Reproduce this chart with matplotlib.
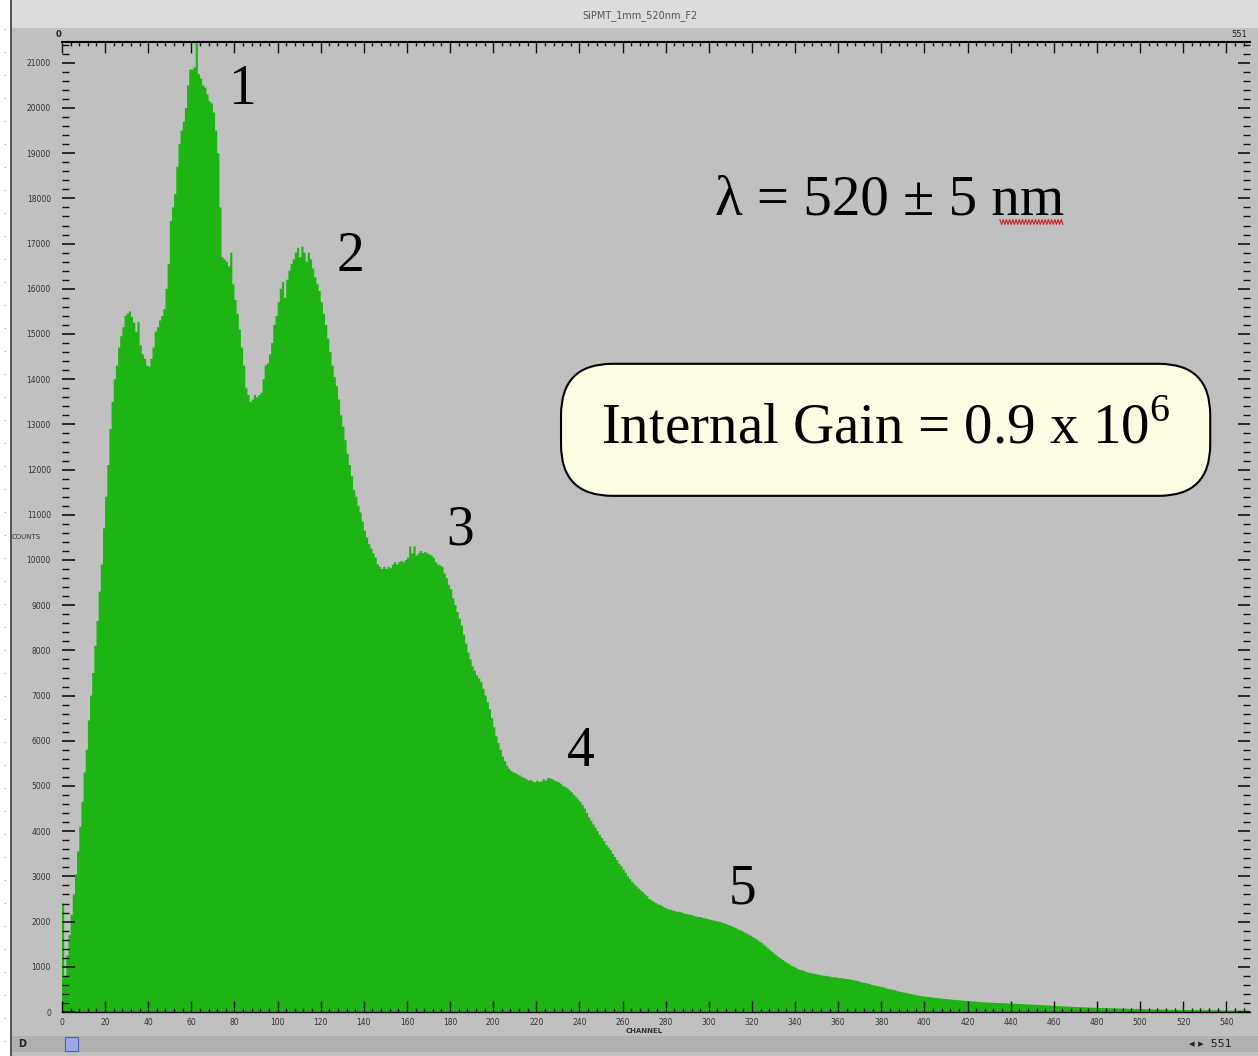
import numpy as np
import matplotlib
matplotlib.use('Agg')
import matplotlib.pyplot as plt
from matplotlib.patches import Rectangle

plt.rcParams['mathtext.fontset'] = 'custom'
plt.rcParams['mathtext.rm'] = 'Liberation Serif'

# counts per ADC channel (0..550)
counts = [
    2400, 780, 1250, 1700, 2150, 2600, 3050, 3550, 4100, 4650,
    5300, 5800, 6450, 7000, 7500, 8100, 8650, 9300, 9900, 10700,
    11400, 12100, 12900, 13500, 14000, 14300, 14700, 14950, 15150, 15400,
    15450, 15500, 15380, 15250, 15050, 15270, 14750, 14550, 14450, 14300,
    14280, 14450, 14700, 15050, 15150, 15300, 15400, 15550, 16000, 16550,
    17500, 17800, 18100, 18700, 19200, 19500, 19700, 20000, 20500, 20850,
    20850, 20900, 21450, 20750, 20650, 20500, 20450, 20300, 20150, 20100,
    19900, 19500, 19000, 17800, 16700, 16650, 16600, 16500, 16800, 16100,
    15750, 15450, 15100, 14700, 14300, 13800, 13650, 13500, 13550, 13650,
    13600, 13650, 13700, 14000, 14300, 14350, 14550, 14800, 15200, 15400,
    15700, 16000, 16150, 15800, 16200, 16400, 16550, 16650, 16800, 16900,
    16700, 16930, 16800, 16600, 16800, 16650, 16450, 16250, 16100, 15950,
    15700, 15450, 15200, 14900, 14600, 14300, 14050, 13850, 13550, 13200,
    12950, 12650, 12350, 12100, 11850, 11550, 11400, 11200, 11050, 10850,
    10650, 10500, 10350, 10250, 10150, 10050, 9900, 9850, 9800, 9850,
    9800, 9850, 9820, 9900, 9950, 9900, 9950, 9980, 9950, 10000,
    10050, 10300, 10150, 10300, 10100, 10150, 10200, 10150, 10180, 10150,
    10120, 10100, 10050, 9950, 9900, 9880, 9850, 9700, 9600, 9450,
    9350, 9150, 9000, 8850, 8700, 8550, 8350, 8150, 7950, 7800,
    7650, 7550, 7450, 7380, 7300, 7150, 7000, 6850, 6700, 6500,
    6300, 6100, 5950, 5800, 5650, 5550, 5450, 5380, 5330, 5300,
    5280, 5250, 5230, 5200, 5180, 5150, 5120, 5130, 5100, 5080,
    5120, 5090, 5100, 5150, 5120, 5180, 5170, 5150, 5120, 5100,
    5080, 5050, 5000, 4980, 4950, 4900, 4860, 4800, 4750, 4700,
    4650, 4580, 4500, 4400, 4300, 4230, 4150, 4080, 4000, 3920,
    3850, 3780, 3700, 3640, 3580, 3500, 3430, 3360, 3280, 3220,
    3150, 3080, 3000, 2940, 2880, 2830, 2780, 2730, 2690, 2650,
    2600, 2560, 2500, 2470, 2440, 2410, 2380, 2370, 2340, 2310,
    2290, 2270, 2260, 2240, 2230, 2210, 2220, 2200, 2180, 2170,
    2160, 2150, 2140, 2120, 2110, 2100, 2100, 2080, 2070, 2060,
    2040, 2030, 2020, 2010, 2000, 1990, 1970, 1960, 1940, 1920,
    1900, 1880, 1860, 1830, 1810, 1790, 1760, 1740, 1710, 1690,
    1660, 1630, 1600, 1560, 1530, 1490, 1450, 1410, 1370, 1330,
    1290, 1250, 1210, 1180, 1150, 1110, 1080, 1050, 1020, 1000,
    980, 950, 930, 920, 900, 880, 870, 860, 850, 840,
    830, 820, 810, 800, 800, 790, 780, 770, 770, 760,
    750, 750, 740, 730, 730, 720, 710, 700, 690, 680,
    660, 650, 640, 630, 620, 600, 590, 580, 570, 560,
    550, 540, 520, 510, 500, 490, 480, 460, 450, 440,
    430, 420, 410, 400, 390, 380, 370, 360, 350, 345,
    340, 335, 330, 320, 315, 310, 305, 300, 295, 290,
    285, 280, 275, 270, 265, 262, 258, 255, 250, 245,
    240, 236, 232, 228, 225, 222, 218, 215, 212, 210,
    207, 205, 203, 200, 198, 196, 194, 192, 190, 188,
    186, 184, 182, 180, 177, 174, 172, 170, 167, 164,
    162, 160, 157, 155, 152, 150, 147, 144, 141, 138,
    135, 133, 130, 128, 125, 122, 120, 118, 115, 112,
    110, 108, 106, 104, 102, 100, 98, 96, 94, 92,
    90, 88, 87, 86, 85, 84, 82, 80, 79, 78,
    76, 75, 74, 73, 72, 70, 69, 68, 67, 66,
    65, 64, 63, 62, 61, 60, 58, 57, 56, 55,
    54, 53, 52, 51, 50, 49, 48, 48, 47, 46,
    45, 45, 44, 43, 43, 42, 41, 41, 40, 40,
    39, 38, 38, 37, 37, 36, 36, 35, 35, 34,
    34, 33, 33, 32, 32, 31, 31, 30, 30, 30, 30,
]

# peak numbers and where they sit (channel, counts)
peak_labels = ['1', '2', '3', '4', '5']
peak_x = [83.5, 133.6, 184.7, 240.4, 315.5]
peak_y = [20400, 16700, 10660, 5750, 2700]

x_ticks = list(range(0, 541, 20))
y_ticks = list(range(0, 21001, 1000))

GREEN = '#1eb414'
BG = '#c0c0c0'

fig = plt.figure(figsize=(12.58, 10.56), dpi=100)
fig.patch.set_facecolor(BG)

# window chrome: title strip, left margin, scroll bar
fig.patches.append(Rectangle((0, 1 - 28 / 1056), 1, 28 / 1056, transform=fig.transFigure,
                             facecolor='#dcdcdc', edgecolor='none', zorder=0))
fig.patches.append(Rectangle((0, 0), 10 / 1258, 1, transform=fig.transFigure,
                             facecolor='white', edgecolor='none', zorder=0))
fig.patches.append(Rectangle((10 / 1258, 0), 2 / 1258, 1, transform=fig.transFigure,
                             facecolor='#555555', edgecolor='none', zorder=1))
fig.patches.append(Rectangle((12 / 1258, 4 / 1056), 1, 16 / 1056, transform=fig.transFigure,
                             facecolor='#b0b0b0', edgecolor='none', zorder=0))
fig.patches.append(Rectangle((65 / 1258, 5 / 1056), 13 / 1258, 14 / 1056, transform=fig.transFigure,
                             facecolor='#9aa8e8', edgecolor='#5060b0', lw=0.8, zorder=1))
for yy in np.arange(30, 1056, 23):
    fig.text(4 / 1258, 1 - yy / 1056, '.', fontsize=6, color='#333333', ha='center')
fig.text(640 / 1258, 1 - 16 / 1056, 'SiPMT_1mm_520nm_F2', fontsize=7, color='#555555',
         ha='center', va='center')
fig.text(18 / 1258, 12 / 1056, 'D', fontsize=7, color='#222222', weight='bold', va='center')
fig.text(1210 / 1258, 12 / 1056, '\u25c2 \u25b8  551', fontsize=8, color='#222222', va='center',
         ha='center')

ax = fig.add_axes([62 / 1258, 1 - 1012 / 1056, (1250 - 62) / 1258, (1012 - 42) / 1056])
ax.set_facecolor(BG)

edges = np.arange(len(counts) + 1)
ax.stairs(counts, edges, fill=True, color=GREEN, lw=0)

ax.set_xlim(0, 551)
ax.set_ylim(0, 21460)

for s in ['left', 'right']:
    ax.spines[s].set_visible(False)
ax.spines['top'].set_linewidth(1.5)
ax.spines['bottom'].set_linewidth(1.0)
ax.spines['bottom'].set_linestyle((0, (2, 1)))

ax.set_xticks(x_ticks)
ax.set_xticklabels([str(v) for v in x_ticks], fontsize=5.5, color='#333333')
ax.set_xticks(np.arange(0, 552, 4), minor=True)
ax.set_yticks(y_ticks)
ax.set_yticklabels(['0'] + [str(v) for v in y_ticks[1:]], fontsize=5.5, color='#333333')
ax.set_yticks(np.arange(0, 21460, 200), minor=True)
ax.tick_params(axis='x', which='major', direction='in', length=8, width=1, pad=4,
               top=True, bottom=True, colors='#111111', labelcolor='#333333')
ax.tick_params(axis='x', which='minor', direction='in', length=3, width=1,
               top=True, bottom=True, colors='#111111')
ax.tick_params(axis='y', which='major', direction='in', length=9, width=1.2, pad=8,
               left=True, right=True, colors='#111111', labelcolor='#333333')
ax.tick_params(axis='y', which='minor', direction='in', length=5, width=1,
               left=True, right=True, colors='#111111')

ax.text(-1.5, 21520, '0', fontsize=6, color='#222222', weight='bold', ha='center',
        va='bottom', zorder=5)
ax.text(546, 21520, '551', fontsize=6, color='#222222', ha='center', va='bottom', zorder=5)
ax.text(-10, 10500, 'COUNTS', fontsize=5, color='#333333', ha='right', va='center')
ax.text(270, -420, 'CHANNEL', fontsize=5, color='#333333', ha='center', va='center', weight='bold')

for lab, px, py in zip(peak_labels, peak_x, peak_y):
    ax.text(px, py, lab, fontsize=40, family='Liberation Serif', ha='center', va='center')

ax.text(384, 17960, '\u03bb = 520 \u00b1 5 nm', fontsize=41, family='Liberation Serif',
        ha='center', va='center')
# spell-check squiggle under "nm"
sq_x = np.linspace(0.7895, 0.8425, 40)
sq_y = 0.8145 + 0.0025 * np.where(np.arange(40) % 2 == 0, 1, -1)
ax.plot(sq_x, sq_y, color='#d02020', lw=0.8, transform=ax.transAxes)

ax.text(382, 12880, 'Internal Gain = 0.9 x 10$^6$', fontsize=41, family='Liberation Serif',
        ha='center', va='center',
        bbox=dict(boxstyle='round,pad=0.7,rounding_size=0.9', facecolor='#fdfde4',
                  edgecolor='black', lw=1.5))

fig.savefig('out.png', dpi=100, facecolor=fig.get_facecolor())
